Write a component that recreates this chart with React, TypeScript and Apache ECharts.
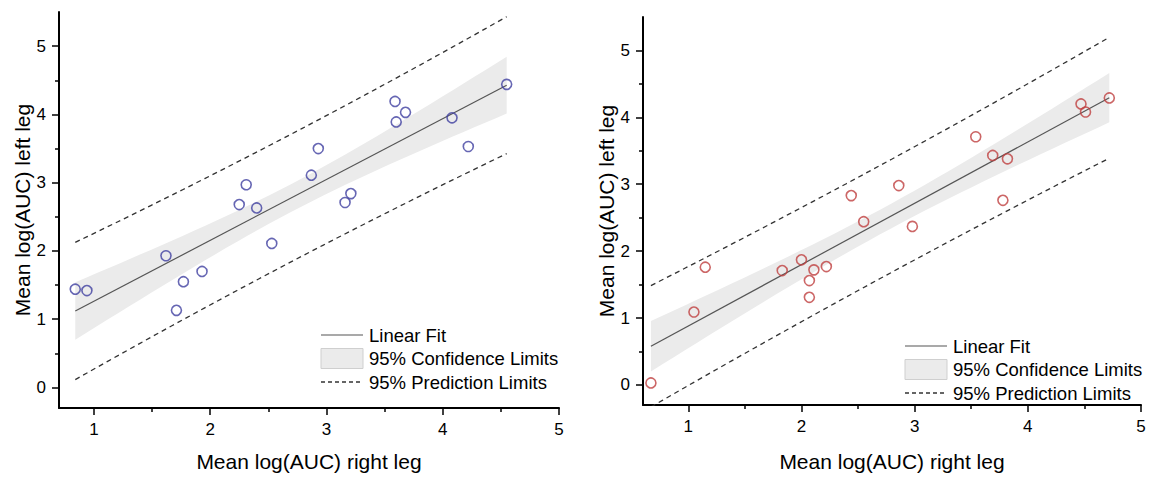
import React, { useEffect, useRef } from 'react';
import * as echarts from 'echarts';

// Left panel (blue): mean log(AUC) right leg vs left leg
const LEFT_X = [0.84, 0.94, 1.62, 1.71, 1.77, 1.93, 2.25, 2.31, 2.40, 2.53, 2.87, 2.93, 3.16, 3.21, 3.59, 3.60, 3.68, 4.08, 4.22, 4.55];
const LEFT_Y = [1.44, 1.42, 1.93, 1.13, 1.55, 1.70, 2.68, 2.97, 2.63, 2.11, 3.11, 3.50, 2.71, 2.84, 4.19, 3.89, 4.03, 3.95, 3.53, 4.44];
// Right panel (red)
const RIGHT_X = [0.67, 1.05, 1.15, 1.83, 2.00, 2.07, 2.07, 2.11, 2.22, 2.44, 2.55, 2.86, 2.98, 3.54, 3.69, 3.82, 3.78, 4.47, 4.51, 4.72];
const RIGHT_Y = [0.03, 1.09, 1.76, 1.71, 1.87, 1.56, 1.31, 1.72, 1.77, 2.83, 2.44, 2.98, 2.37, 3.71, 3.43, 3.38, 2.76, 4.20, 4.08, 4.29];

const X_TICKS = [1, 2, 3, 4, 5];
const X_MINOR = [1.5, 2.5, 3.5, 4.5];
const Y_TICKS = [0, 1, 2, 3, 4, 5];
const Y_MINOR = [0.5, 1.5, 2.5, 3.5, 4.5];

const X_TITLE = 'Mean log(AUC) right leg';
const Y_TITLE = 'Mean log(AUC) left leg';
const LEGEND_LABELS = ['Linear Fit', '95% Confidence Limits', '95% Prediction Limits'];
const T_975_DF18 = 2.1009;

const FONT = '"Liberation Sans", Arial, sans-serif';

function regression(xs: number[], ys: number[]) {
  const n = xs.length;
  const mx = xs.reduce((s, v) => s + v, 0) / n;
  const my = ys.reduce((s, v) => s + v, 0) / n;
  let sxx = 0, sxy = 0;
  for (let i = 0; i < n; i++) {
    sxx += (xs[i] - mx) ** 2;
    sxy += (xs[i] - mx) * (ys[i] - my);
  }
  const b = sxy / sxx;
  const a = my - b * mx;
  let sse = 0;
  for (let i = 0; i < n; i++) sse += (ys[i] - a - b * xs[i]) ** 2;
  const s = Math.sqrt(sse / (n - 2));
  const x0 = Math.min(...xs);
  const x1 = Math.max(...xs);
  const steps = 40;
  const ciUp: number[][] = [], ciLo: number[][] = [], piUp: number[][] = [], piLo: number[][] = [];
  for (let i = 0; i <= steps; i++) {
    const x = x0 + ((x1 - x0) * i) / steps;
    const yh = a + b * x;
    const ci = T_975_DF18 * s * Math.sqrt(1 / n + (x - mx) ** 2 / sxx);
    const pi = T_975_DF18 * s * Math.sqrt(1 + 1 / n + (x - mx) ** 2 / sxx);
    ciUp.push([x, yh + ci]);
    ciLo.push([x, yh - ci]);
    piUp.push([x, yh + pi]);
    piLo.push([x, yh - pi]);
  }
  return { fitLine: [[x0, a + b * x0], [x1, a + b * x1]], ciUp, ciLo, piUp, piLo };
}

function axes(gridIndex: number, xMin: number, xGap: number, yGap: number) {
  const axisLine = { show: true, onZero: false, lineStyle: { color: '#000', width: 2 } };
  const tickStyle = { color: '#000', width: 1.5 };
  const labelStyle = { color: '#000', fontSize: 17, fontFamily: FONT };
  const nameStyle = { color: '#000', fontSize: 21, fontFamily: FONT };
  const xAxis = [
    {
      type: 'value', gridIndex, min: xMin, max: 5, position: 'bottom',
      axisLine, splitLine: { show: false },
      axisTick: { show: true, inside: false, length: 7, lineStyle: tickStyle, customValues: X_TICKS },
      axisLabel: { ...labelStyle, margin: 13, customValues: X_TICKS },
      name: X_TITLE, nameLocation: 'middle', nameGap: xGap, nameTextStyle: nameStyle,
    },
    {
      type: 'value', gridIndex, min: xMin, max: 5, position: 'bottom',
      axisLine: { show: false, onZero: false }, splitLine: { show: false }, axisLabel: { show: false },
      axisTick: { show: true, inside: false, length: 4, lineStyle: tickStyle, customValues: X_MINOR },
    },
  ];
  const yAxis = [
    {
      type: 'value', gridIndex, min: -0.3, max: 5.5, position: 'left',
      axisLine, splitLine: { show: false },
      axisTick: { show: true, inside: false, length: 7, lineStyle: tickStyle, customValues: Y_TICKS },
      axisLabel: { ...labelStyle, margin: 13, customValues: Y_TICKS },
      name: Y_TITLE, nameLocation: 'middle', nameGap: yGap, nameTextStyle: nameStyle, nameRotate: 90,
    },
    {
      type: 'value', gridIndex, min: -0.3, max: 5.5, position: 'left',
      axisLine: { show: false, onZero: false }, splitLine: { show: false }, axisLabel: { show: false },
      axisTick: { show: true, inside: false, length: 4, lineStyle: tickStyle, customValues: Y_MINOR },
    },
  ];
  return { xAxis, yAxis };
}

function seriesFor(idx: number, xs: number[], ys: number[], color: string) {
  const r = regression(xs, ys);
  const axisIdx = { xAxisIndex: idx * 2, yAxisIndex: idx * 2 };
  const pts = xs.map((x, i) => [x, ys[i]]);
  return [
    {
      type: 'custom', ...axisIdx, silent: true, z: 1,
      data: [[r.fitLine[0][0], r.fitLine[0][1]]],
      renderItem: (_p: any, api: any) => {
        const poly = [
          ...r.ciUp.map((p) => api.coord(p)),
          ...r.ciLo.slice().reverse().map((p) => api.coord(p)),
        ];
        return { type: 'polygon', shape: { points: poly }, style: { fill: '#ebebeb' } };
      },
    },
    {
      type: 'line', ...axisIdx, data: r.fitLine, symbol: 'none', silent: true, z: 3,
      lineStyle: { color: '#555', width: 1.2 },
    },
    {
      type: 'line', ...axisIdx, data: r.piUp, symbol: 'none', silent: true, z: 3,
      lineStyle: { color: '#333', width: 1.3, type: [5, 4] },
    },
    {
      type: 'line', ...axisIdx, data: r.piLo, symbol: 'none', silent: true, z: 3,
      lineStyle: { color: '#333', width: 1.3, type: [5, 4] },
    },
    {
      type: 'scatter', ...axisIdx, data: pts, symbol: 'circle', symbolSize: 10, z: 5,
      itemStyle: { color: 'rgba(255,255,255,0)', borderColor: color, borderWidth: 1.6 },
    },
  ];
}

function legend(x: number, y: number) {
  // x = left of sample, y = center of first row
  const textStyle = { fill: '#000', fontSize: 18.5, fontFamily: FONT, verticalAlign: 'middle', align: 'left' };
  const tx = x + 48;
  return [
    { type: 'line', shape: { x1: x, y1: y, x2: x + 42, y2: y }, style: { stroke: '#555', lineWidth: 1.2 } },
    { type: 'text', x: tx, y: y, style: { ...textStyle, text: LEGEND_LABELS[0] } },
    { type: 'rect', shape: { x: x, y: y + 13.5, width: 42, height: 20 }, style: { fill: '#ebebeb', stroke: '#cfcfcf', lineWidth: 1 } },
    { type: 'text', x: tx, y: y + 23.5, style: { ...textStyle, text: LEGEND_LABELS[1] } },
    { type: 'line', shape: { x1: x, y1: y + 47, x2: x + 42, y2: y + 47 }, style: { stroke: '#333', lineWidth: 1.3, lineDash: [4, 3] } },
    { type: 'text', x: tx, y: y + 47, style: { ...textStyle, text: LEGEND_LABELS[2] } },
  ];
}

export default function App() {
  const ref = useRef<HTMLDivElement>(null);
  useEffect(() => {
    if (!ref.current) return;
    const chart = echarts.init(ref.current, undefined, { renderer: 'svg' });
    const a0 = axes(0, 0.7, 43, 20);
    const a1 = axes(1, 0.6, 46, 23);
    chart.setOption({
      animation: false,
      backgroundColor: '#fff',
      grid: [
        { left: 59, top: 12, width: 500, height: 400 },
        { left: 643, top: 17, width: 498, height: 398 },
      ],
      xAxis: [...a0.xAxis, ...a1.xAxis],
      yAxis: [...a0.yAxis, ...a1.yAxis],
      series: [
        ...seriesFor(0, LEFT_X, LEFT_Y, '#4040a0'),
        ...seriesFor(1, RIGHT_X, RIGHT_Y, '#bf4040'),
      ],
      graphic: [...legend(321, 335), ...legend(905, 346)],
    });
    return () => chart.dispose();
  }, []);
  return <div ref={ref} style={{ position: 'absolute', left: 0, top: 0, width: 1149, height: 477 }} />;
}
